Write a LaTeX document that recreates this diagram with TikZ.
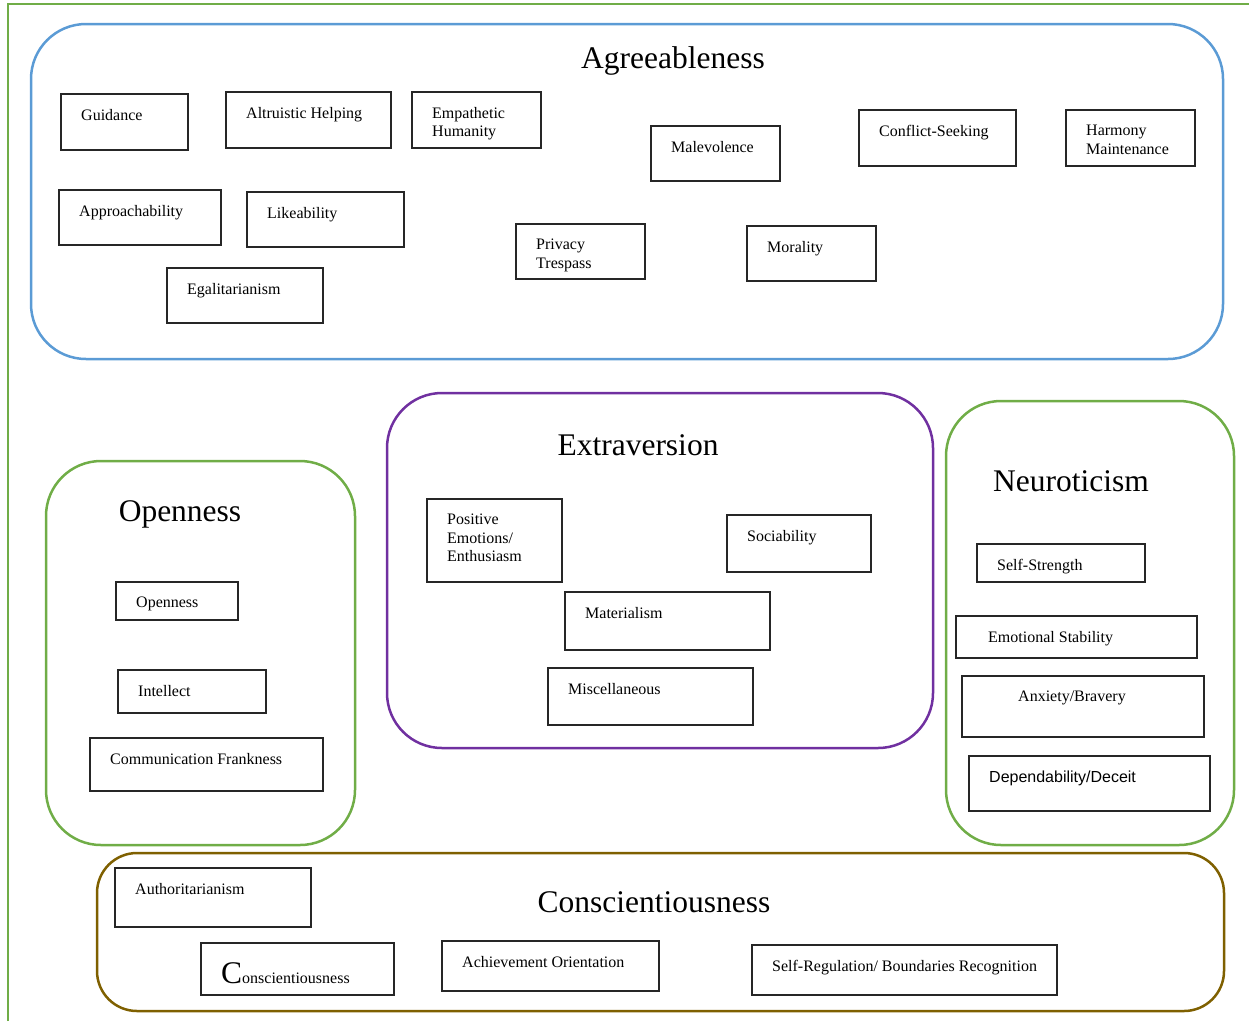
\documentclass[tikz,border=0pt]{standalone}
\usepackage{fontspec}
\setmainfont{Liberation Serif}
\newfontfamily\arialfont{Liberation Sans}
\definecolor{AgreeBlue}{HTML}{5B9BD5}
\definecolor{ExtraPurple}{HTML}{7030A0}
\definecolor{OpenGreen}{HTML}{70AD47}
\definecolor{ConsBrown}{HTML}{7F6000}
\newcommand{\traitfont}{\fontsize{16}{18.5}\selectfont}
\newcommand{\factorfont}{\fontsize{31.5}{36}\selectfont}

\begin{document}
\begin{tikzpicture}[x=1pt, y=-1pt,
                factor/.style={draw=#1, line width=2.5pt, rounded corners=55pt,
                               anchor=north west, inner sep=0pt, outer sep=0pt},
                trait/.style={draw=black!85, line width=1.3pt,
                              anchor=north west, inner sep=0pt, outer sep=0pt},
                tlab/.style={anchor=north west, align=left, inner sep=0pt,
                             xshift=20pt, yshift=-15pt, font=\traitfont},
                factorname/.style={anchor=base, font=\factorfont}]
                \useasboundingbox (0,0) rectangle (1249,1021);
                \draw[OpenGreen, line width=2.2pt] (8,1021) -- (8,4) -- (1249,4);

                % Agreeableness
                \node[factor=AgreeBlue, minimum width=1192pt, minimum height=335pt] (agree) at (31,24) {};
                \node[factorname] (agreet) at (673,68) {Agreeableness};
                \node[trait, minimum width=127pt, minimum height=56pt, label={[tlab]north west:Guidance}] (guid) at (61,94) {};
                \node[trait, minimum width=165pt, minimum height=56pt, label={[tlab]north west:Altruistic Helping}] (altr) at (226,92) {};
                \node[trait, minimum width=129pt, minimum height=56pt, label={[tlab]north west:{Empathetic\\Humanity}}] (empa) at (412,92) {};
                \node[trait, minimum width=129pt, minimum height=55pt, label={[tlab]north west:Malevolence}] (male) at (651,126) {};
                \node[trait, minimum width=157pt, minimum height=56pt, label={[tlab]north west:Conflict-Seeking}] (conf) at (859,110) {};
                \node[trait, minimum width=129pt, minimum height=56pt, label={[tlab]north west:{Harmony\\Maintenance}}] (harm) at (1066,110) {};
                \node[trait, minimum width=162pt, minimum height=55pt, label={[tlab]north west:Approachability}] (appr) at (59,190) {};
                \node[trait, minimum width=157pt, minimum height=55pt, label={[tlab]north west:Likeability}] (like) at (247,192) {};
                \node[trait, minimum width=129pt, minimum height=55pt, label={[tlab]north west:{Privacy\\Trespass}}] (priv) at (516,224) {};
                \node[trait, minimum width=129pt, minimum height=55pt, label={[tlab]north west:Morality}] (mora) at (747,226) {};
                \node[trait, minimum width=156pt, minimum height=55pt, label={[tlab]north west:Egalitarianism}] (egal) at (167,268) {};

                % Extraversion
                \node[factor=ExtraPurple, minimum width=546pt, minimum height=355pt] (extra) at (387,393) {};
                \node[factorname] (extrat) at (638,455) {Extraversion};
                \node[trait, minimum width=135pt, minimum height=83pt, label={[tlab]north west:{Positive\\Emotions/\\Enthusiasm}}] (posi) at (427,499) {};
                \node[trait, minimum width=144pt, minimum height=57pt, label={[tlab]north west:Sociability}] (soci) at (727,515) {};
                \node[trait, minimum width=205pt, minimum height=58pt, label={[tlab]north west:Materialism}] (mate) at (565,592) {};
                \node[trait, minimum width=205pt, minimum height=57pt, label={[tlab]north west:Miscellaneous}] (misc) at (548,668) {};

                % Openness
                \node[factor=OpenGreen, minimum width=309pt, minimum height=384pt] (open) at (46,461) {};
                \node[factorname] (opent) at (180,521) {Openness};
                \node[trait, minimum width=122pt, minimum height=38pt, label={[tlab]north west:Openness}] (opns) at (116,582) {};
                \node[trait, minimum width=148pt, minimum height=43pt, label={[tlab]north west:Intellect}] (inte) at (118,670) {};
                \node[trait, minimum width=233pt, minimum height=53pt, label={[tlab]north west:Communication Frankness}] (comm) at (90,738) {};

                % Neuroticism
                \node[factor=OpenGreen, minimum width=288pt, minimum height=444pt] (neuro) at (946,401) {};
                \node[factorname] (neurot) at (1071,491) {Neuroticism};
                \node[trait, minimum width=168pt, minimum height=38pt, label={[tlab]north west:Self-Strength}] (self) at (977,544) {};
                \node[trait, minimum width=241pt, minimum height=42pt, label={[tlab, xshift=12pt]north west:Emotional Stability}] (emot) at (956,616) {};
                \node[trait, minimum width=242pt, minimum height=61pt, label={[tlab, xshift=36pt]north west:Anxiety/Bravery}] (anxi) at (962,676) {};
                \node[trait, minimum width=241pt, minimum height=55pt, label={[tlab, font=\traitfont\arialfont]north west:Dependability/Deceit}] (depe) at (969,756) {};

                % Conscientiousness
                \node[factor=ConsBrown, rounded corners=40pt, minimum width=1127pt, minimum height=158pt] (consc) at (97,853) {};
                \node[factorname] (consct) at (654,912) {Conscientiousness};
                \node[trait, minimum width=196pt, minimum height=59pt, label={[tlab]north west:Authoritarianism}] (auth) at (115,868) {};
                \node[trait, minimum width=193pt, minimum height=52pt, label={[tlab, yshift=-4pt]north west:{{\factorfont C}onscientiousness}}] (cons) at (201,943) {};
                \node[trait, minimum width=217pt, minimum height=50pt, label={[tlab]north west:Achievement Orientation}] (achi) at (442,941) {};
                \node[trait, minimum width=305pt, minimum height=50pt, label={[tlab]north west:Self-Regulation/ Boundaries Recognition}] (regu) at (752,945) {};
            \end{tikzpicture}
\end{document}
